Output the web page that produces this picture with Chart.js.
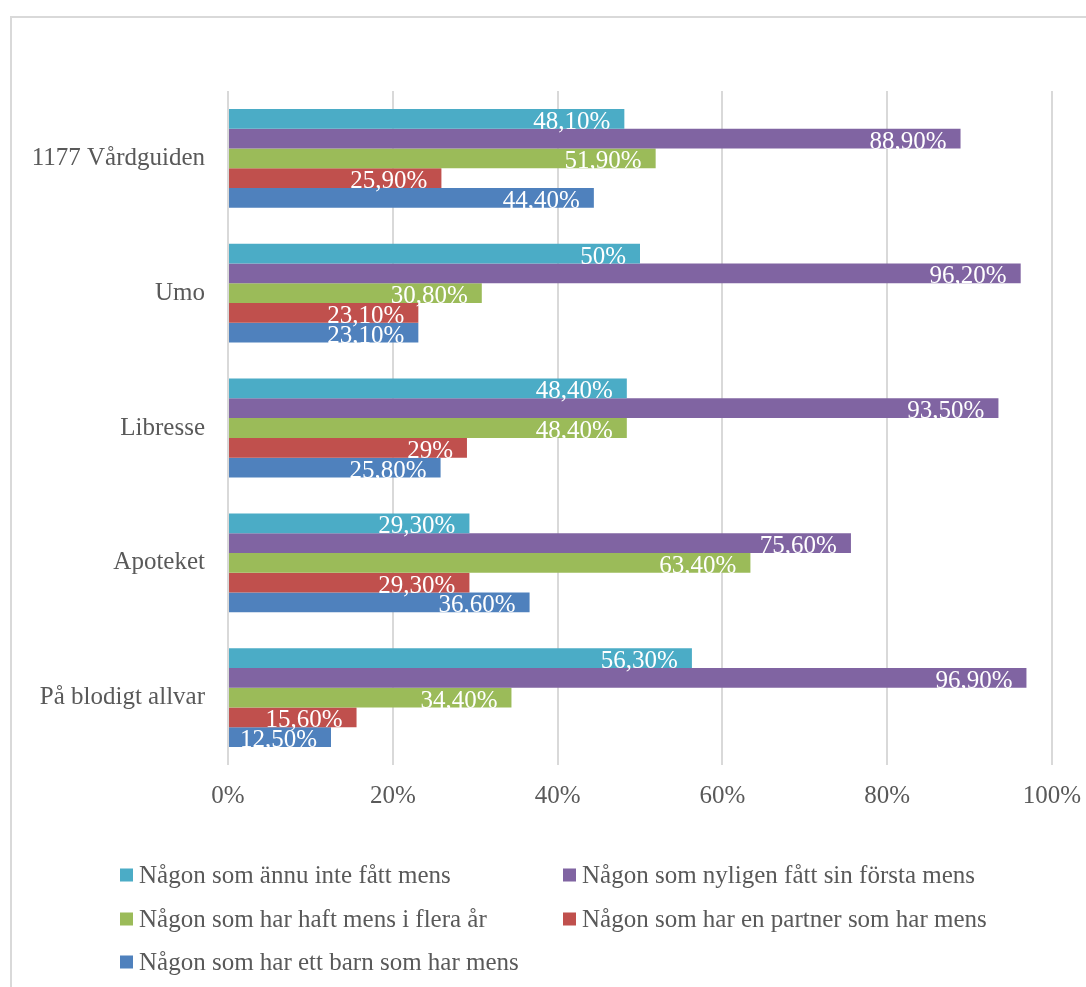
<!DOCTYPE html>
<html>
<head>
<meta charset="utf-8">
<script src="https://cdn.jsdelivr.net/npm/chart.js@4/dist/chart.umd.min.js"></script>
<style>
  body { margin: 0; background: #fff; }
  #chart { display: block; }
</style>
</head>
<body>
<canvas id="chart" width="1086" height="987"></canvas>
<script>
const categories = ["1177 Vårdguiden", "Umo", "Libresse", "Apoteket", "På blodigt allvar"];

const seriesNames = [
    "Någon som ännu inte fått mens",
    "Någon som nyligen fått sin första mens",
    "Någon som har haft mens i flera år",
    "Någon som har en partner som har mens",
    "Någon som har ett barn som har mens"
];
const seriesColors = ["#4BACC6", "#8064A2", "#9BBB59", "#C0504D", "#4F81BD"];

const innanMens = [48.1, 50, 48.4, 29.3, 56.3];
const nyligenMens = [88.9, 96.2, 93.5, 75.6, 96.9];
const fleraAr = [51.9, 30.8, 48.4, 63.4, 34.4];
const partner = [25.9, 23.1, 29, 29.3, 15.6];
const barn = [44.4, 23.1, 25.8, 36.6, 12.5];

const xTicks = [0, 20, 40, 60, 80, 100];

const seriesValues = [innanMens, nyligenMens, fleraAr, partner, barn];
const textColor = "#595959";
const fontFamily = "'Liberation Serif', 'Times New Roman', serif";

function formatPct(v) {
    if (Number.isInteger(v)) return v + "%";
    return v.toFixed(2).replace(".", ",") + "%";
}

// grey frame around the whole chart
const framePlugin = {
    id: "frame",
    beforeDraw(chart) {
        const ctx = chart.ctx;
        ctx.save();
        ctx.strokeStyle = "#D9D9D9";
        ctx.lineWidth = 2;
        ctx.strokeRect(11, 17, 1200, 1100);
        ctx.restore();
    }
};

// white value labels at the inside end of each bar
const valueLabels = {
    id: "valueLabels",
    afterDatasetsDraw(chart) {
        const ctx = chart.ctx;
        ctx.save();
        ctx.font = "25px " + fontFamily;
        ctx.fillStyle = "#ffffff";
        ctx.textAlign = "right";
        ctx.textBaseline = "alphabetic";
        chart.data.datasets.forEach((ds, i) => {
            chart.getDatasetMeta(i).data.forEach((bar, j) => {
                ctx.fillText(formatPct(ds.data[j]), bar.x - 14, bar.y + 10);
            });
        });
        ctx.restore();
    }
};

// legend in two columns like the original
const legendPlugin = {
    id: "twoColLegend",
    afterDraw(chart) {
        const ctx = chart.ctx;
        const cols = [120, 563];
        const rows = [875, 919, 962];
        ctx.save();
        ctx.font = "25px " + fontFamily;
        ctx.textBaseline = "middle";
        ctx.textAlign = "left";
        chart.data.datasets.forEach((ds, i) => {
            const x = cols[i % 2];
            const y = rows[Math.floor(i / 2)];
            ctx.fillStyle = ds.backgroundColor;
            ctx.fillRect(x, y - 6.5, 13, 13);
            ctx.fillStyle = textColor;
            ctx.fillText(ds.label, x + 19, y + 1);
        });
        ctx.restore();
    }
};

const datasets = seriesNames.map((name, i) => ({
    label: name,
    data: seriesValues[i],
    backgroundColor: seriesColors[i],
    borderWidth: 0,
    barPercentage: 1,
    categoryPercentage: 0.733
}));

new Chart(document.getElementById("chart"), {
    type: "bar",
    data: { labels: categories, datasets },
    options: {
        indexAxis: "y",
        responsive: false,
        animation: false,
        layout: { padding: { top: 91, right: 34, left: 0, bottom: 0 } },
        plugins: {
            legend: { display: false },
            tooltip: { enabled: false }
        },
        scales: {
            x: {
                min: 0,
                max: 100,
                afterBuildTicks(axis) {
                    axis.ticks = xTicks.map(v => ({ value: v }));
                },
                afterFit(axis) {
                    axis.height = 222;
                    axis.paddingLeft = 0;
                    axis.paddingRight = 0;
                },
                grid: { color: "#D9D9D9", lineWidth: 2, drawTicks: false },
                border: { display: false },
                ticks: {
                    padding: 16,
                    color: textColor,
                    font: { family: fontFamily, size: 25 },
                    callback: v => v + "%"
                }
            },
            y: {
                afterFit(axis) { axis.width = 228; },
                grid: { display: false, drawTicks: false },
                border: { display: false },
                ticks: {
                    padding: 23,
                    color: textColor,
                    font: { family: fontFamily, size: 25 }
                }
            }
        }
    },
    plugins: [framePlugin, valueLabels, legendPlugin]
});
</script>
</body>
</html>
